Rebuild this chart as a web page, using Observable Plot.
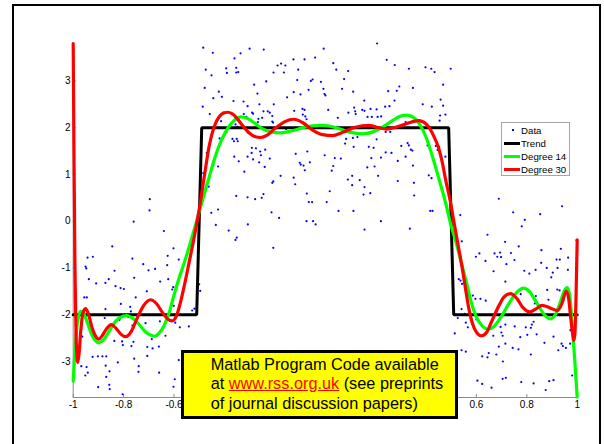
<!DOCTYPE html>
<html>
<head>
<meta charset="utf-8">
<script src="https://cdn.jsdelivr.net/npm/d3@7"></script>
<script src="https://cdn.jsdelivr.net/npm/@observablehq/plot@0.6"></script>
<style>
  html, body { margin: 0; padding: 0; background: #fff; overflow: hidden; }
  #wrap { position: relative; width: 604px; height: 444px; overflow: hidden;
          font-family: "Liberation Sans", Arial, Helvetica, sans-serif; }
  #wrap svg { position: absolute; left: 0; top: 0; }
  #frame { position: absolute; left: 12px; top: 4px; width: 585px; height: 470px;
           border: 2px solid #000; pointer-events: none; }
  #legend { position: absolute; left: 501px; top: 122px; width: 67px; height: 52px;
            background: #fff; border: 1px solid #a6a6a6; font-size: 9.7px; color: #000; }
  #legend .row { position: absolute; left: 19px; line-height: 13px; white-space: nowrap; }
  #legend .swatch { position: absolute; left: 2px; width: 16px; height: 3px; }
  #legend .dot { position: absolute; width: 2px; height: 2px; background: #0000ff; }
  #note { position: absolute; left: 181px; top: 350px; width: 244px; height: 61.3px;
          padding: 1.7px 0 0 26.7px; background: #ffff00; border: 3px solid #000;
          font-size: 16.3px; line-height: 19.5px; color: #000; white-space: nowrap; }
  #note a { color: #ff0000; text-decoration: underline; }
</style>
</head>
<body>
<div id="wrap">
  <div id="frame"></div>
</div>
<script>
// Axis setup
const xDomain = [-1, 1];
const yDomain = [-3.77, 3.8];
const xTicks = [-1, -0.8, -0.6, -0.4, -0.2, 0, 0.2, 0.4, 0.6, 0.8, 1];
// the middle labels sit under the annotation box, so only the outer ones are written
const xTickLabels = [-1, -0.8, -0.6, 0.6, 0.8, 1];
const yTicks = [-3, -2, -1, 0, 1, 2, 3];

// Noisy observations [x, y]
const dataPoints = [
  [-0.484,3.71],[-0.446,3.60],[-0.336,3.59],[-0.360,3.48],[-0.474,3.24],[-0.393,3.27],[-0.353,3.28],
  [-0.451,3.12],[-0.390,3.17],[-0.353,3.18],[-0.345,3.19],[-0.478,2.85],[-0.422,2.77],[-0.444,2.63],
  [-0.410,2.66],[-0.364,2.57],[-0.486,2.45],[-0.458,2.29],[-0.405,2.32],[-0.413,2.14],[-0.392,1.90],
  [-0.400,1.85],[-0.419,1.77],[-0.368,1.76],[-0.351,1.76],[-0.347,1.71],[-0.362,1.71],[-0.470,1.46],
  [-0.444,1.19],[-0.425,1.17],[-0.361,1.38],[-0.343,1.28],[-0.484,1.03],[-0.462,0.74],[-0.353,0.54],
  [-0.696,0.47],[-0.697,0.23],[-0.425,0.25],[-0.452,0.18],
  [-0.300,3.69],[-0.244,3.67],[-0.040,3.50],[-0.006,3.69],[0.206,3.80],[-0.126,3.46],[-0.082,3.46],
  [-0.175,3.37],[-0.158,3.33],[-0.189,3.33],[0.032,3.38],[0.244,3.45],[0.276,3.34],[0.332,3.26],
  [-0.205,3.18],[-0.164,3.18],[-0.107,3.24],[0.044,3.24],[0.091,3.21],[-0.234,2.99],[-0.282,2.92],
  [-0.111,3.02],[-0.057,3.00],[-0.050,3.03],[-0.017,2.98],[0.075,3.04],[0.294,2.88],[0.284,2.79],
  [0.250,2.78],[-0.007,2.83],[-0.003,2.72],[0.001,2.69],[-0.066,2.81],[-0.125,2.76],[-0.098,2.71],
  [0.067,2.83],[0.111,2.77],[-0.269,2.73],[-0.151,2.65],[0.155,2.58],[-0.324,2.56],[-0.261,2.50],
  [-0.204,2.50],[0.275,2.58],[-0.308,2.46],[-0.123,2.36],[-0.090,2.40],[-0.082,2.38],[-0.089,2.28],
  [0.012,2.38],[0.115,2.43],[0.119,2.35],[0.147,2.38],[0.156,2.36],[0.180,2.40],[0.204,2.39],
  [0.238,2.45],[0.255,2.46],[-0.323,2.29],[-0.313,2.23],[-0.290,2.32],[-0.286,2.30],[-0.245,2.35],
  [-0.228,2.35],[-0.220,2.32],[-0.265,2.19],[-0.250,2.21],[-0.210,2.25],[-0.210,2.13],[-0.207,2.11],
  [-0.079,2.24],[-0.074,2.18],[0.050,2.21],[0.092,2.32],[0.121,2.29],[0.185,2.23],[0.168,2.23],
  [0.208,2.23],[0.222,2.24],[-0.356,2.07],[-0.348,2.02],[-0.267,2.12],[-0.035,1.89],[-0.155,1.97],
  [0.258,1.91],[0.083,1.76],[0.110,1.78],[0.128,1.80],[0.204,1.75],[0.240,1.91],[0.079,1.66],
  [0.113,1.59],[0.302,1.61],[-0.291,1.57],[-0.275,1.56],[-0.258,1.49],[-0.255,1.41],[-0.292,1.46],
  [-0.238,1.53],[-0.308,1.38],[-0.117,1.44],[-0.071,1.49],[-0.002,1.41],[0.173,1.59],[0.192,1.57],
  [0.240,1.47],[0.263,1.46],[0.183,1.35],[0.221,1.36],[-0.286,1.32],[-0.220,1.34],[-0.101,1.25],
  [-0.097,1.21],[-0.086,1.19],[-0.081,1.09],[-0.061,1.26],[0.038,1.35],[0.062,1.34],[0.288,1.29],
  [-0.240,1.16],[-0.262,1.26],[0.032,1.18],[0.026,1.08],[-0.321,1.06],[0.167,1.15],[0.196,1.17],
  [-0.177,0.97],[-0.125,0.93],[0.107,0.97],[0.210,0.97],[0.090,0.89],[0.137,0.88],[-0.206,0.85],
  [-0.210,0.82],[-0.119,0.79],[0.288,0.86],[0.107,0.77],[0.156,0.73],[-0.308,0.51],[-0.278,0.47],
  [-0.245,0.58],[-0.252,0.50],[-0.073,0.59],[0.018,0.64],[0.152,0.57],[0.179,0.60],[0.006,0.41],
  [-0.065,0.41],[-0.052,0.41],[0.053,0.22],[0.112,0.22],[-0.213,0.19],[-0.183,0.07],[-0.307,-0.07],
  [-0.351,-0.35],[-0.356,-0.40],[-0.206,-0.57],[-0.074,0.00],[-0.048,0.00],[-0.038,-0.07],
  [0.156,-0.18],[0.221,0.00],[0.336,-0.16],[-0.383,-0.20],[-0.434,-0.08],
  [0.398,3.29],[0.421,3.26],[0.434,3.19],[0.498,3.26],[0.348,2.85],[0.468,2.92],[0.458,2.60],
  [0.387,2.50],[0.423,2.45],[0.468,2.47],[0.477,2.28],[0.456,2.26],[0.454,2.15],[0.319,2.12],
  [0.327,1.67],[0.332,1.62],[0.340,1.53],[0.346,1.51],[0.406,1.62],[0.439,1.61],[0.452,1.59],
  [0.446,1.52],[0.319,1.38],[0.477,1.38],[0.348,1.19],[0.411,0.98],[0.422,0.92],[0.352,0.82],
  [0.353,0.55],[0.417,0.22],[0.426,0.22],[0.536,0.13],[0.689,0.48],[0.746,0.19],[0.792,0.03],
  [0.853,0.15],[0.940,0.32],[0.780,-0.11],[0.997,-0.41],[1.000,-0.59],[0.542,-0.43],[0.644,-0.29],
  [0.714,-0.44],[0.768,-0.54],[0.598,-0.76],[0.612,-0.69],[0.672,-0.69],[0.683,-0.76],[0.694,-0.67],
  [0.698,-0.77],[0.737,-0.68],[0.636,-0.85],[0.719,-0.92],[0.751,-0.83],[0.858,-0.62],[0.935,-0.59],
  [0.964,-0.78],[0.918,-0.82],[0.931,-0.82],[0.857,-0.89],[0.668,-1.07],[0.790,-1.06],[0.810,-1.12],
  [0.835,-1.04],[0.879,-1.00],[0.922,-1.00],[0.963,-1.04],[0.903,-1.10],[0.897,-1.20],[0.530,-1.24],
  [0.537,-1.27],[0.543,-1.34],[0.715,-1.29],[0.776,-1.56],[0.881,-1.47],[0.921,-1.46],[0.930,-1.48],
  [0.586,-1.59],[0.596,-1.66],[0.616,-1.66],[0.637,-1.70],[0.836,-1.60],[0.832,-1.76],[0.886,-1.68],
  [0.541,-1.88],[0.554,-1.98],[0.526,-2.07],[0.558,-2.17],[0.600,-2.10],[0.579,-2.08],[0.514,-2.40],
  [0.566,-2.27],[0.667,-2.45],[0.696,-2.26],[0.704,-2.45],[0.699,-2.38],[0.752,-2.25],[0.715,-2.21],
  [0.796,-2.27],[0.820,-2.21],[0.816,-2.28],[0.802,-2.43],[0.774,-2.48],[0.827,-2.15],[0.839,-2.42],
  [0.744,-2.71],[0.767,-2.74],[0.679,-2.85],[0.689,-2.68],[0.649,-2.82],[0.705,-3.00],[0.715,-2.62],
  [0.816,-2.85],[0.870,-2.60],[0.906,-2.47],[0.938,-2.62],[0.943,-2.67],[0.955,-2.71],[0.972,-2.62],
  [0.925,-2.76],[0.973,-2.33],[0.541,-2.76],[0.558,-2.79],[0.604,-3.41],[0.623,-3.48],[0.660,-3.56],
  [0.704,-3.37],[0.717,-3.35],[0.778,-3.44],[0.827,-3.47],[0.889,-3.42],[0.906,-3.40],[0.875,-3.61],
  [0.980,-3.30],[0.623,-2.89],[0.644,-2.91],
  [-0.760,-0.01],[-0.640,-0.21],[-0.845,-0.54],[-0.602,-0.58],[-0.943,-0.78],[-0.922,-0.76],
  [-0.951,-0.97],[-0.948,-1.01],[-0.765,-0.80],[-0.625,-0.74],[-0.581,-0.82],[-0.701,-1.05],
  [-0.675,-1.02],[-0.836,-1.06],[-0.722,-0.92],[-0.627,-0.94],[-0.938,-1.24],[-0.909,-1.33],
  [-0.872,-1.32],[-0.859,-1.24],[-0.758,-1.21],[-0.655,-1.29],[-0.623,-1.24],[-0.832,-1.39],
  [-0.812,-1.43],[-0.799,-1.45],[-0.708,-1.50],[-0.752,-1.63],[-0.603,-1.41],[-0.607,-1.46],
  [-0.507,-1.29],[-0.500,-1.35],[-0.496,-1.49],[-0.956,-1.63],[-0.946,-1.63],[-0.872,-1.88],
  [-0.811,-1.77],[-0.774,-1.83],[-0.771,-1.93],[-0.781,-2.05],[-0.601,-1.81],[-0.519,-1.87],
  [-0.528,-1.91],[-0.595,-2.17],[-0.577,-2.27],[-0.541,-2.25],[-0.875,-2.07],[-0.816,-2.11],
  [-0.765,-2.23],[-0.713,-2.18],[-0.656,-2.14],[-0.964,-2.47],[-0.837,-2.56],[-0.806,-2.57],
  [-0.803,-2.65],[-0.761,-2.58],[-0.769,-2.67],[-0.688,-2.52],[-0.634,-2.45],[-0.706,-2.69],
  [-0.685,-2.72],[-0.660,-2.68],[-0.902,-2.89],[-0.884,-2.89],[-0.869,-2.89],[-0.923,-2.90],
  [-0.758,-2.94],[-0.706,-2.88],[-0.823,-3.02],[-0.871,-3.09],[-0.968,-3.10],[-0.947,-3.12],
  [-0.740,-3.10],[-0.741,-3.22],[-0.856,-3.21],[-0.659,-3.24],[-0.942,-3.24],[-0.952,-3.30],
  [-0.597,-3.38],[-0.581,-2.97],[-0.869,-3.33],[-0.901,-3.55],[-0.857,-3.50],[-0.855,-3.59],
  [-0.804,-3.70],[-0.602,-3.54]
];

// Underlying square-wave trend [x, y]
const trend = [[-1,-2],[-0.51,-2],[-0.49,2],[0.49,2],[0.51,-2],[1,-2]];

// Degree 14 polynomial fit, sampled [x, y]
const degree14 = [
  [-1,-3.42],[-0.995,-2.95],[-0.99,-2.55],[-0.985,-2.25],[-0.978,-2.02],[-0.97,-1.93],[-0.96,-1.96],
  [-0.945,-2.15],[-0.93,-2.38],[-0.915,-2.53],[-0.898,-2.60],[-0.88,-2.54],[-0.86,-2.38],[-0.84,-2.20],
  [-0.815,-2.06],[-0.788,-2.02],[-0.76,-2.09],[-0.735,-2.23],[-0.71,-2.38],[-0.69,-2.44],[-0.676,-2.46],
  [-0.66,-2.40],[-0.64,-2.24],[-0.62,-1.97],[-0.60,-1.58],[-0.58,-1.22],[-0.56,-0.90],[-0.54,-0.55],
  [-0.52,-0.18],[-0.50,0.20],[-0.48,0.58],[-0.46,0.95],[-0.44,1.32],[-0.42,1.63],[-0.40,1.86],
  [-0.38,2.04],[-0.36,2.16],[-0.335,2.23],[-0.31,2.20],[-0.28,2.10],[-0.25,1.98],[-0.215,1.91],
  [-0.18,1.89],[-0.15,1.91],[-0.12,1.95],[-0.09,2.00],[-0.05,2.04],[-0.015,2.05],[0.02,2.03],
  [0.06,1.97],[0.10,1.90],[0.15,1.87],[0.19,1.91],[0.23,2.02],[0.27,2.16],[0.30,2.25],[0.325,2.27],
  [0.35,2.22],[0.375,2.07],[0.40,1.80],[0.424,1.41],[0.451,0.91],[0.477,0.41],[0.50,-0.10],
  [0.52,-0.47],[0.54,-0.88],[0.56,-1.30],[0.58,-1.74],[0.60,-2.05],[0.62,-2.22],[0.645,-2.31],
  [0.67,-2.25],[0.70,-2.03],[0.73,-1.75],[0.76,-1.52],[0.787,-1.43],[0.81,-1.50],[0.84,-1.75],
  [0.87,-2.00],[0.894,-2.09],[0.915,-1.98],[0.935,-1.70],[0.948,-1.50],[0.96,-1.42],[0.97,-1.58],
  [0.98,-2.20],[0.99,-2.95],[1,-3.76]
];

// Degree 30 polynomial fit, sampled [x, y]
const degree30 = [
  [-1,3.80],[-0.997,1.5],[-0.993,-1.0],[-0.989,-2.35],[-0.985,-2.90],[-0.982,-3.02],[-0.977,-2.85],
  [-0.97,-2.35],[-0.962,-1.98],[-0.951,-1.87],[-0.94,-1.98],[-0.925,-2.28],[-0.91,-2.47],[-0.898,-2.52],
  [-0.885,-2.45],[-0.87,-2.32],[-0.849,-2.21],[-0.83,-2.29],[-0.81,-2.42],[-0.792,-2.47],[-0.77,-2.36],
  [-0.75,-2.12],[-0.72,-1.80],[-0.693,-1.68],[-0.67,-1.76],[-0.645,-1.96],[-0.625,-2.09],[-0.607,-2.13],
  [-0.59,-2.02],[-0.575,-1.75],[-0.56,-1.40],[-0.54,-0.88],[-0.52,-0.35],[-0.50,0.25],[-0.48,0.95],
  [-0.46,1.62],[-0.44,2.03],[-0.42,2.24],[-0.40,2.32],[-0.387,2.33],[-0.37,2.30],[-0.35,2.20],
  [-0.33,2.06],[-0.30,1.88],[-0.28,1.81],[-0.257,1.79],[-0.23,1.84],[-0.20,1.98],[-0.16,2.13],
  [-0.125,2.18],[-0.09,2.11],[-0.05,1.95],[-0.01,1.85],[0.028,1.83],[0.07,1.90],[0.12,2.01],
  [0.173,2.05],[0.21,2.00],[0.245,1.97],[0.28,2.01],[0.325,2.09],[0.371,2.15],[0.40,2.08],
  [0.43,1.83],[0.451,1.55],[0.465,1.25],[0.477,0.91],[0.497,0.41],[0.51,0.01],[0.527,-0.50],
  [0.544,-1.01],[0.557,-1.45],[0.57,-1.87],[0.585,-2.20],[0.60,-2.37],[0.62,-2.45],[0.64,-2.38],
  [0.66,-2.15],[0.69,-1.80],[0.71,-1.62],[0.735,-1.55],[0.76,-1.65],[0.785,-1.85],[0.811,-1.94],
  [0.835,-1.88],[0.861,-1.80],[0.89,-1.85],[0.921,-1.91],[0.94,-1.75],[0.956,-1.50],[0.965,-1.62],
  [0.975,-2.10],[0.983,-2.45],[0.987,-2.55],[0.991,-2.40],[0.995,-1.70],[1,-0.40]
];

const legendLabels = ["Data", "Trend", "Degree 14", "Degree 30"];
const legendColors = ["#0000ff", "#000000", "#00ff00", "#ff0000"];

const axisGray = "#8a8a8a";
const px = d => d[0];
const py = d => d[1];

const chart = Plot.plot({
  width: 604,
  height: 444,
  marginLeft: 72.7,
  marginRight: 27.3,
  marginTop: 43,
  marginBottom: 47,
  style: {fontFamily: '"Liberation Sans", Arial, sans-serif', fontSize: "10px", background: "transparent", color: "#000"},
  x: {domain: xDomain},
  y: {domain: yDomain},
  marks: [
    Plot.ruleY([yDomain[0]], {stroke: axisGray}),
    Plot.ruleX([xDomain[0]], {stroke: axisGray}),
    // inward tick marks
    Plot.axisX({ticks: xTicks, tickSize: 3, dy: -3, tickFormat: () => "", stroke: axisGray, label: null}),
    Plot.axisY({ticks: yTicks, tickSize: 3, dx: 3, tickFormat: () => "", stroke: axisGray, label: null}),
    // tick labels
    Plot.axisX({ticks: xTickLabels, tickSize: 0, tickPadding: 3.5, tickFormat: d => String(d), label: null}),
    Plot.axisY({ticks: yTicks, tickSize: 0, tickPadding: 2.7, tickFormat: d => String(d), label: null}),
    Plot.dot(dataPoints, {x: px, y: py, r: 1.1, fill: legendColors[0], stroke: "none"}),
    Plot.line(trend, {x: px, y: py, stroke: legendColors[1], strokeWidth: 3, strokeLinejoin: "miter"}),
    Plot.line(degree14, {x: px, y: py, stroke: legendColors[2], strokeWidth: 3.2, curve: "monotone-x"}),
    Plot.line(degree30, {x: px, y: py, stroke: legendColors[3], strokeWidth: 3.2, curve: "monotone-x"})
  ]
});

const wrap = document.getElementById("wrap");
wrap.insertBefore(chart, wrap.firstChild);

// Legend box
const legend = document.createElement("div");
legend.id = "legend";
const rowCenters = [7, 20.3, 33.3, 46.7];
legendLabels.forEach((label, i) => {
  const row = document.createElement("div");
  row.className = "row";
  row.style.top = (rowCenters[i] - 6.4) + "px";
  row.textContent = label;
  legend.appendChild(row);
  if (i === 0) {
    const dot = document.createElement("div");
    dot.className = "dot";
    dot.style.left = "9.5px";
    dot.style.top = (rowCenters[i] - 1) + "px";
    legend.appendChild(dot);
  } else {
    const sw = document.createElement("div");
    sw.className = "swatch";
    sw.style.top = (rowCenters[i] - 1.5) + "px";
    sw.style.background = legendColors[i];
    legend.appendChild(sw);
  }
});
wrap.appendChild(legend);

// Annotation box
const note = document.createElement("div");
note.id = "note";
note.innerHTML = 'Matlab Program Code available<br>at <a>www.rss.org.uk</a> (see preprints<br>of journal discussion papers)';
wrap.appendChild(note);
</script>
</body>
</html>
